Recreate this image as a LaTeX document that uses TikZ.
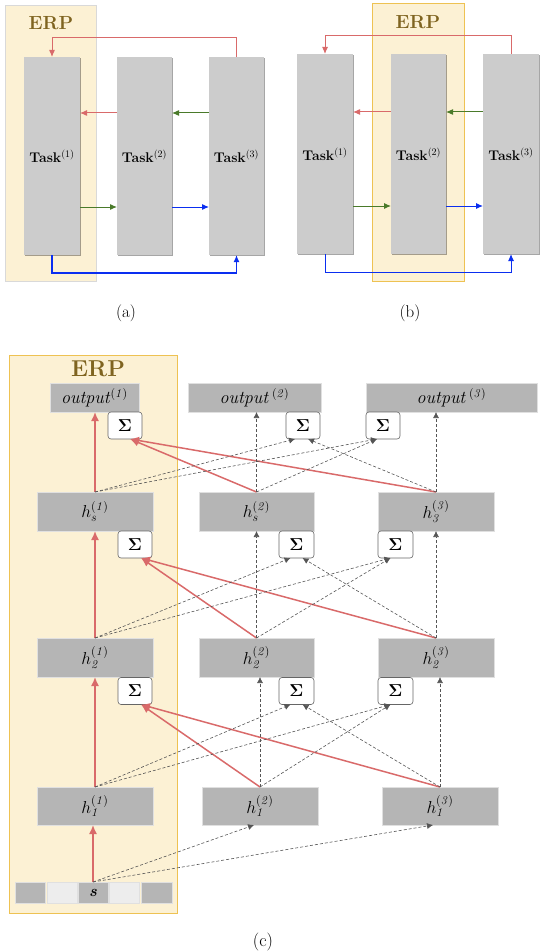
\documentclass[tikz,border=0pt]{standalone}
\usetikzlibrary{arrows.meta,shadows,calc}
\definecolor{erpfill}{HTML}{FCF1D4}
\definecolor{erpline}{HTML}{EEC252}
\definecolor{erptext}{HTML}{7F6420}
\definecolor{taskgray}{HTML}{CCCCCC}
\definecolor{boxgray}{HTML}{B5B5B5}
\definecolor{myred}{HTML}{D96A6A}
\definecolor{mygreen}{HTML}{4A7A2A}
\definecolor{myblue}{HTML}{0A2EF0}
\definecolor{dashgray}{HTML}{555555}
\begin{document}
\begin{tikzpicture}[x=1pt,y=-1pt,
  every node/.style={inner sep=0pt, outer sep=0pt},
  sh/.style={drop shadow={shadow xshift=1pt,shadow yshift=-1.3pt,opacity=0.35,fill=black}},
  erpbox/.style={draw=erpline, fill=erpfill, line width=0.8pt, sh},
  erplabel/.style={text=erptext, font=\fontsize{19}{21}\selectfont\bfseries},
  taskbox/.style={fill=taskgray, sh, minimum width=56pt, font=\fontsize{14}{16}\selectfont\bfseries},
  hbox/.style={fill=boxgray, draw=black!12, line width=0.6pt, sh, minimum width=116pt, minimum height=39pt, font=\fontsize{18}{20}\selectfont},
  outbox/.style={fill=boxgray, draw=black!12, line width=0.6pt, sh, minimum height=29pt, font=\fontsize{18}{20}\selectfont},
  sigbox/.style={fill=white, draw=black!60, rounded corners=3pt, minimum width=34pt, minimum height=27pt, line width=0.6pt, font=\fontsize{16}{18}\selectfont},
  cell/.style={fill=boxgray, draw=black!12, line width=0.6pt, minimum height=21pt, minimum width=30pt, sh, font=\fontsize{16}{18}\selectfont},
  lightcell/.style={cell, fill=black!7},
  arr/.style={line width=1pt, -{Latex[length=7pt,width=6pt]}},
  redA/.style={arr, draw=myred},
  greenA/.style={arr, draw=mygreen},
  blueA/.style={arr, draw=myblue},
  redC/.style={draw=myred, line width=1.5pt, -{Latex[length=9pt,width=8pt]}},
  dashC/.style={draw=dashgray, line width=0.6pt, dash pattern=on 3pt off 2pt, -{Latex[length=6pt,width=6pt]}},
  caption/.style={font=\fontsize{17}{19}\selectfont}
]
\useasboundingbox (0,0) rectangle (542,952);

% ---------------- (a)
\node[erpbox, draw=black!15, minimum width=91pt, minimum height=276pt] (erpa) at (50.5,143) {};
\node[erplabel] (erpla) at (51,23) {ERP};
\node[taskbox, minimum height=198pt] (t1a) at (52,156) {Task$^{(1)}$};
\node[taskbox, minimum height=198pt, minimum width=55pt] (t2a) at (144.5,156) {Task$^{(2)}$};
\node[taskbox, minimum height=198pt, minimum width=55pt] (t3a) at (236.5,156) {Task$^{(3)}$};
\draw[redA] (t3a.north) -- ++(0,-19) -| (t1a.north);
\draw[redA] ([yshift=43pt]t2a.west) -- ([yshift=43pt]t1a.east);
\draw[greenA] ([yshift=43pt]t3a.west) -- ([yshift=43pt]t2a.east);
\draw[greenA] ([yshift=-51pt]t1a.east) -- ([yshift=-51pt]t2a.west);
\draw[blueA] ([yshift=-51pt]t2a.east) -- ([yshift=-51pt]t3a.west);
\draw[blueA, line width=1.5pt] (t1a.south) -- ++(0,18) -| (t3a.south);
\node[caption] (capa) at (126,313) {(a)};

% ---------------- (b)
\node[erpbox, minimum width=92pt, minimum height=278pt] (erpb) at (418,142) {};
\node[erplabel] (erplb) at (418,22) {ERP};
\node[taskbox, minimum height=200pt] (t1b) at (325,154) {Task$^{(1)}$};
\node[taskbox, minimum height=200pt, minimum width=55pt] (t2b) at (418.5,154) {Task$^{(2)}$};
\node[taskbox, minimum height=200pt] (t3b) at (511,154) {Task$^{(3)}$};
\draw[redA] (t3b.north) -- ++(0,-18) -| (t1b.north);
\draw[redA] ([yshift=42pt]t2b.west) -- ([yshift=42pt]t1b.east);
\draw[greenA] ([yshift=42pt]t3b.west) -- ([yshift=42pt]t2b.east);
\draw[greenA] ([yshift=-52pt]t1b.east) -- ([yshift=-52pt]t2b.west);
\draw[blueA] ([yshift=-52pt]t2b.east) -- ([yshift=-52pt]t3b.west);
\draw[blueA] (t1b.south) -- ++(0,18) -| (t3b.south);
\node[caption] (capb) at (410,313) {(b)};

% ---------------- (c)
\node[erpbox, minimum width=168pt, minimum height=558pt] (erpc) at (93,634) {};
\node[erplabel, font=\fontsize{23}{25}\selectfont\bfseries] (erplc) at (98,369) {ERP};

\node[outbox, minimum width=89pt] (out1) at (94.5,397.5) {\textit{output}$^{\mathit{(1)}}$};
\node[outbox, minimum width=133pt] (out2) at (254.5,397.5) {\textit{output}\,$^{\mathit{(2)}}$};
\node[outbox, minimum width=171pt] (out3) at (451.5,397.5) {\textit{output}\,$^{\mathit{(3)}}$};
\node[sigbox] (sigO1) at (125,425.5) {$\mathbf{\Sigma}$};
\node[sigbox] (sigO2) at (303,425.5) {$\mathbf{\Sigma}$};
\node[sigbox] (sigO3) at (383,425.5) {$\mathbf{\Sigma}$};

\node[hbox] (hs1) at (95,511.5) {$h_{s}^{\mathit{(1)}}$};
\node[hbox, minimum width=115pt] (hs2) at (256.5,511.5) {$h_{s}^{\mathit{(2)}}$};
\node[hbox] (hs3) at (436,511.5) {$h_{\mathit{3}}^{\mathit{(3)}}$};
\node[sigbox] (sigS1) at (135,544.5) {$\mathbf{\Sigma}$};
\node[sigbox, minimum width=35pt] (sigS2) at (296.5,544.5) {$\mathbf{\Sigma}$};
\node[sigbox, minimum width=35pt] (sigS3) at (395.5,544.5) {$\mathbf{\Sigma}$};

\node[hbox] (h21) at (95,657.5) {$h_{\mathit{2}}^{\mathit{(1)}}$};
\node[hbox, minimum width=115pt] (h22) at (256.5,657.5) {$h_{\mathit{2}}^{\mathit{(2)}}$};
\node[hbox] (h23) at (436,657.5) {$h_{\mathit{2}}^{\mathit{(3)}}$};
\node[sigbox] (sig21) at (135,691) {$\mathbf{\Sigma}$};
\node[sigbox, minimum width=35pt] (sig22) at (296.5,691) {$\mathbf{\Sigma}$};
\node[sigbox, minimum width=35pt] (sig23) at (395.5,691) {$\mathbf{\Sigma}$};

\node[hbox, minimum height=38pt] (h11) at (95,806) {$h_{\mathit{1}}^{\mathit{(1)}}$};
\node[hbox, minimum height=38pt] (h12) at (260,806) {$h_{\mathit{1}}^{\mathit{(2)}}$};
\node[hbox, minimum height=38pt] (h13) at (440,806) {$h_{\mathit{1}}^{\mathit{(3)}}$};

\node[cell] (c1) at (30,892.5) {};
\node[lightcell] (c2) at (62,892.5) {};
\node[cell] (s) at (93,892.5) {\textbf{\textit{s}}};
\node[lightcell] (c4) at (124,892.5) {};
\node[cell, minimum width=31pt] (c5) at (156.5,892.5) {};

\node[caption, font=\fontsize{18}{20}\selectfont] (capc) at (263,942) {(c)};

% red (ERP column)
\draw[redC] (s.north) -- (s.north |- h11.south);
\draw[redC] (h11.north) -- (h11.north |- h21.south);
\draw[redC] (h21.north) -- (h21.north |- hs1.south);
\draw[redC] (hs1.north) -- (hs1.north |- out1.south);
\draw[redC] (h12.north) -- ($(sig21.south)+(6,0)$);
\draw[redC] (h13.north) -- ($(sig21.south)+(6,0)$);
\draw[redC] (h22.north) -- ($(sigS1.south)+(6,0)$);
\draw[redC] (h23.north) -- ($(sigS1.south)+(6,0)$);
\draw[redC] (hs2.north) -- ($(sigO1.south)+(5,0)$);
\draw[redC] (hs3.north) -- ($(sigO1.south)+(5,0)$);

% dashed
\draw[dashC] (s.north) -- ($(h12.south)+(-6,0)$);
\draw[dashC] (s.north) -- ($(h13.south)+(-7,0)$);

\draw[dashC] (h12.north) -- (h12.north |- h22.south);
\draw[dashC] (h13.north) -- (h13.north |- h23.south);
\draw[dashC] (h11.north) -- ($(sig22.south)+(-6,0)$);
\draw[dashC] (h11.north) -- ($(sig23.south)+(-5,0)$);
\draw[dashC] (h12.north) -- ($(sig23.south)+(-5,0)$);
\draw[dashC] (h13.north) -- ($(sig22.south)+(6,0)$);

\draw[dashC] (h22.north) -- (h22.north |- hs2.south);
\draw[dashC] (h23.north) -- (h23.north |- hs3.south);
\draw[dashC] (h21.north) -- ($(sigS2.south)+(-6,0)$);
\draw[dashC] (h21.north) -- ($(sigS3.south)+(-5,0)$);
\draw[dashC] (h22.north) -- ($(sigS3.south)+(-5,0)$);
\draw[dashC] (h23.north) -- ($(sigS2.south)+(6,0)$);

\draw[dashC] (hs2.north) -- (hs2.north |- out2.south);
\draw[dashC] (hs3.north) -- (hs3.north |- out3.south);
\draw[dashC] (hs1.north) -- ($(sigO2.south)+(-8,0)$);
\draw[dashC] (hs1.north) -- ($(sigO3.south)+(-6,0)$);
\draw[dashC] (hs2.north) -- ($(sigO3.south)+(-6,0)$);
\draw[dashC] (hs3.north) -- ($(sigO2.south)+(5,0)$);
\end{tikzpicture}
\end{document}
